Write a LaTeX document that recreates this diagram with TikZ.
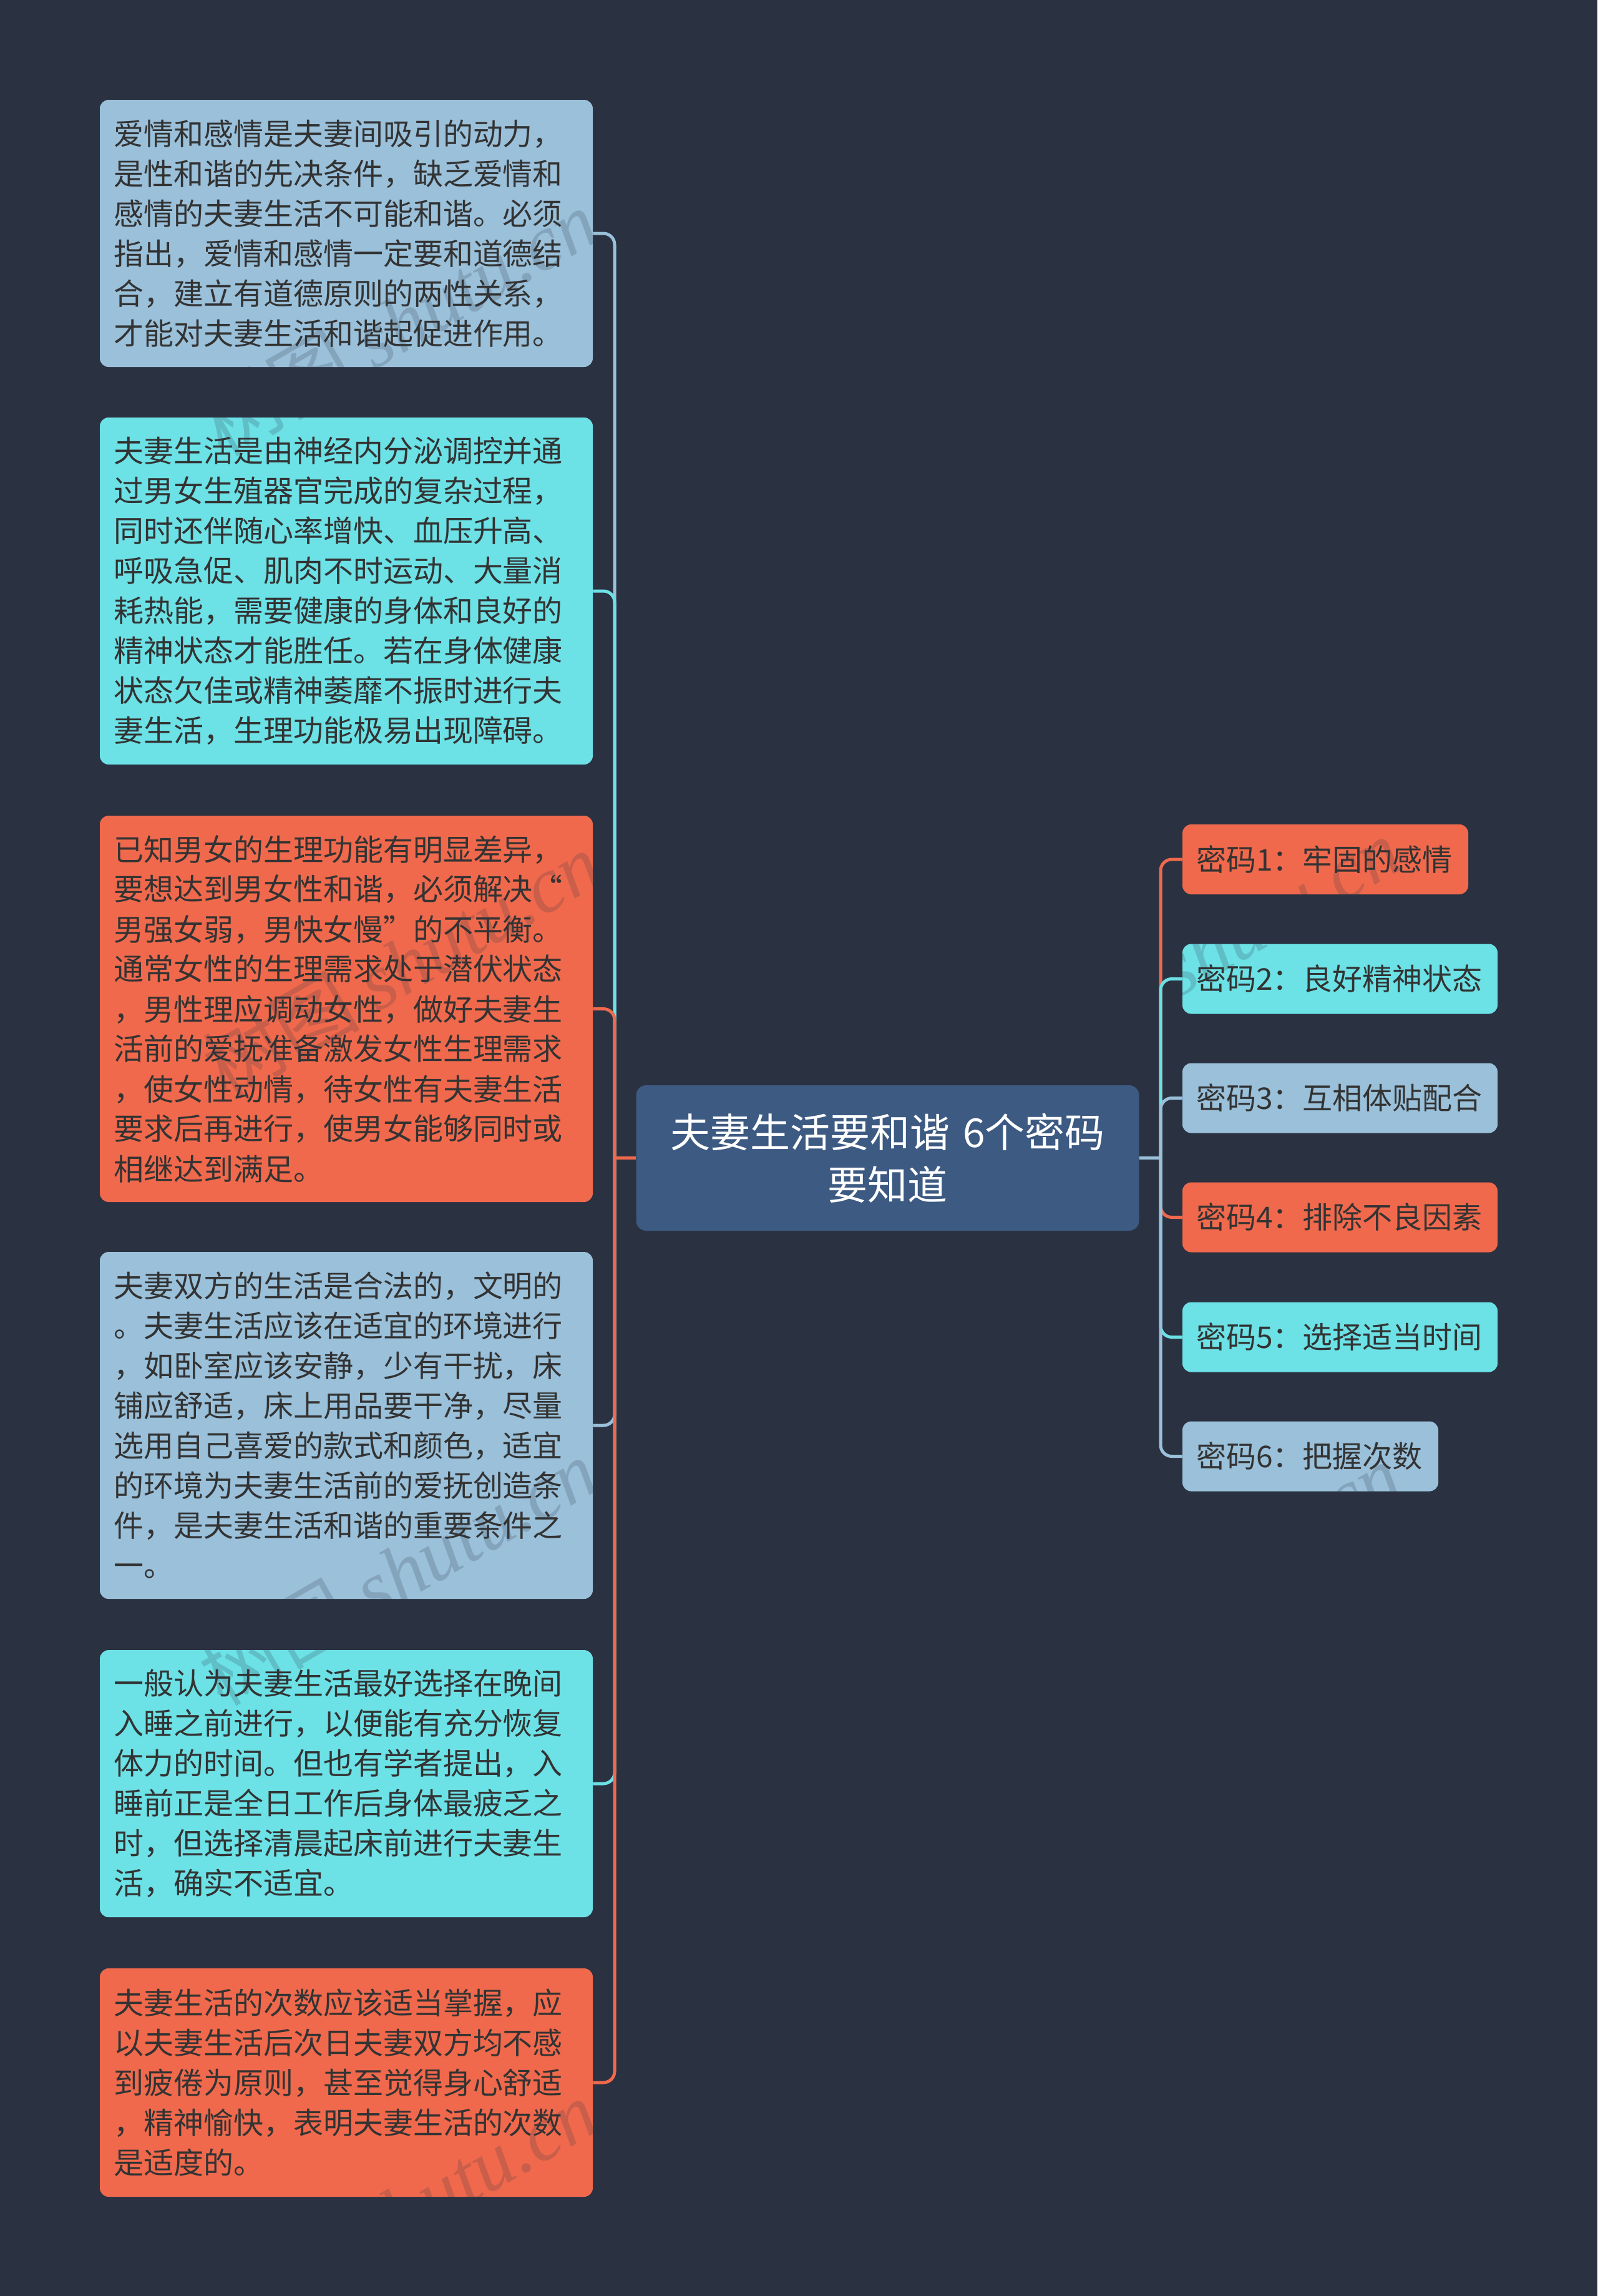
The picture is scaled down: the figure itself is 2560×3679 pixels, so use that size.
\documentclass[tikz,border=0pt]{standalone}
\usepackage{fontspec}
\setmainfont{Noto Sans CJK SC}
\newfontfamily\wmlatin{Liberation Serif}
\definecolor{bgc}{HTML}{2A3141}
\definecolor{bluec}{HTML}{9AC0DA}
\definecolor{cyanc}{HTML}{6CE1E6}
\definecolor{orangec}{HTML}{F0694C}
\definecolor{rootc}{HTML}{3C5A82}
\definecolor{inkc}{HTML}{333333}
\definecolor{wmc}{HTML}{2E3646}
\tikzset{
  card/.style={rectangle,rounded corners=7pt,inner sep=0pt,text=inkc,align=left,
    font=\fontsize{24pt}{32pt}\selectfont},
  leftcard/.style={card,minimum width=395pt,text width=373pt},
  rightcard/.style={card,minimum height=56pt},
  rootcard/.style={rectangle,rounded corners=8pt,inner sep=0pt,fill=rootc,text=white,align=center,
    minimum width=403pt,minimum height=116.5pt,text width=379pt,
    font=\fontsize{32pt}{42pt}\selectfont},
  link/.style={line width=2.5pt,rounded corners=9pt},
  stub/.style={line width=2.5pt},
  wmark/.style={text=wmc,opacity=0.2,rotate=30,inner sep=0pt,font=\fontsize{63pt}{65pt}\selectfont},
}
\newcommand{\wmtext}{树图 {\wmlatin\itshape shutu.cn}}
\begin{document}
\begin{tikzpicture}[x=0.5pt,y=-0.5pt]
\useasboundingbox (0,0) rectangle (2560,3679);
\fill[bgc] (0,0) rectangle (2560,3679);

\node[rootcard] (root) at (1422.5,1855.5) {夫妻生活要和谐 6个密码\\要知道};

\node[leftcard,fill=bluec,minimum height=214pt] (l1) at (555,374) {爱情和感情是夫妻间吸引的动力，\\是性和谐的先决条件，缺乏爱情和\\感情的夫妻生活不可能和谐。必须\\指出，爱情和感情一定要和道德结\\合，建立有道德原则的两性关系，\\才能对夫妻生活和谐起促进作用。};
\node[leftcard,fill=cyanc,minimum height=278pt] (l2) at (555,947) {夫妻生活是由神经内分泌调控并通\\过男女生殖器官完成的复杂过程，\\同时还伴随心率增快、血压升高、\\呼吸急促、肌肉不时运动、大量消\\耗热能，需要健康的身体和良好的\\精神状态才能胜任。若在身体健康\\状态欠佳或精神萎靡不振时进行夫\\妻生活，生理功能极易出现障碍。};
\node[leftcard,fill=orangec,minimum height=309.5pt] (l3) at (555,1616.5) {已知男女的生理功能有明显差异，\\要想达到男女性和谐，必须解决“\\男强女弱，男快女慢”的不平衡。\\通常女性的生理需求处于潜伏状态\\，男性理应调动女性，做好夫妻生\\活前的爱抚准备激发女性生理需求\\，使女性动情，待女性有夫妻生活\\要求后再进行，使男女能够同时或\\相继达到满足。};
\node[leftcard,fill=bluec,minimum height=278pt] (l4) at (555,2284) {夫妻双方的生活是合法的，文明的\\。夫妻生活应该在适宜的环境进行\\，如卧室应该安静，少有干扰，床\\铺应舒适，床上用品要干净，尽量\\选用自己喜爱的款式和颜色，适宜\\的环境为夫妻生活前的爱抚创造条\\件，是夫妻生活和谐的重要条件之\\一。};
\node[leftcard,fill=cyanc,minimum height=214pt] (l5) at (555,2858) {一般认为夫妻生活最好选择在晚间\\入睡之前进行，以便能有充分恢复\\体力的时间。但也有学者提出，入\\睡前正是全日工作后身体最疲乏之\\时，但选择清晨起床前进行夫妻生\\活，确实不适宜。};
\node[leftcard,fill=orangec,minimum height=183pt] (l6) at (555,3337) {夫妻生活的次数应该适当掌握，应\\以夫妻生活后次日夫妻双方均不感\\到疲倦为原则，甚至觉得身心舒适\\，精神愉快，表明夫妻生活的次数\\是适度的。};

\node[rightcard,fill=orangec,minimum width=229pt,text width=207pt] (r1) at (2124,1377) {密码1：牢固的感情};
\node[rightcard,fill=cyanc,minimum width=252.5pt,text width=230.5pt] (r2) at (2147.5,1568.5) {密码2：良好精神状态};
\node[rightcard,fill=bluec,minimum width=252.5pt,text width=230.5pt] (r3) at (2147.5,1759.5) {密码3：互相体贴配合};
\node[rightcard,fill=orangec,minimum width=252.5pt,text width=230.5pt] (r4) at (2147.5,1950.5) {密码4：排除不良因素};
\node[rightcard,fill=cyanc,minimum width=252.5pt,text width=230.5pt] (r5) at (2147.5,2142.5) {密码5：选择适当时间};
\node[rightcard,fill=bluec,minimum width=205pt,text width=183pt] (r6) at (2100,2333.5) {密码6：把握次数};

\coordinate (ls) at (985,1855.5);
\coordinate (rs) at (1860,1855.5);

\draw[link,bluec] (ls) |- (l1.east);
\draw[link,cyanc] (ls) |- (l2.east);
\draw[link,orangec] (ls) |- (l3.east);
\draw[link,bluec] (ls) |- (l4.east);
\draw[link,cyanc] (ls) |- (l5.east);
\draw[link,orangec] (ls) |- (l6.east);
\draw[stub,orangec] (root.west) -- (ls);

\draw[link,orangec] (rs) |- (r1.west);
\draw[link,cyanc] (rs) |- (r2.west);
\draw[link,bluec] (rs) |- (r3.west);
\draw[link,orangec] (rs) |- (r4.west);
\draw[link,cyanc] (rs) |- (r5.west);
\draw[link,bluec] (rs) |- (r6.west);
\draw[stub,bluec] (root.east) -- (rs);

\node[wmark] (w1) at (638,516) {\wmtext};
\node[wmark] (w2) at (643,1545) {\wmtext};
\node[wmark] (w3) at (637,2518) {\wmtext};
\node[wmark] (w4) at (637,3545) {\wmtext};
\node[wmark] (w5) at (1925,1523) {\wmtext};
\node[wmark] (w6) at (1925,2525) {\wmtext};
\end{tikzpicture}
\end{document}
